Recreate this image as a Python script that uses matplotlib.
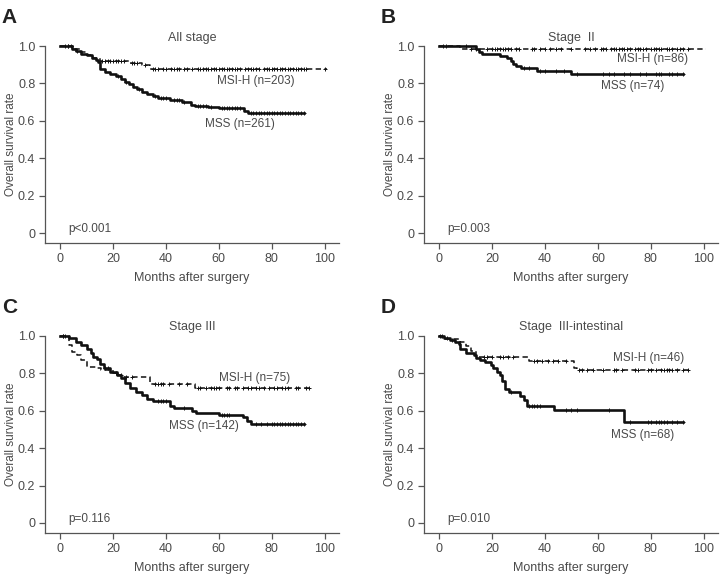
import matplotlib.pyplot as plt
import numpy as np

plt.rcParams['font.family'] = ['Liberation Sans', 'DejaVu Sans']

# ---- data (event times in months, survival after each step)
# Panel A: all stage
a_mss_t = [0, 4.5, 6, 8, 10, 12, 13.5, 14.5, 15, 17, 19, 21, 23, 24.5, 26, 27.5, 29, 31, 33,
           35, 37, 41.5, 46, 49.5, 51, 56, 60, 69.5, 71]
a_mss_s = [1.0, 0.985, 0.975, 0.96, 0.95, 0.935, 0.925, 0.915, 0.875, 0.862, 0.852, 0.84,
           0.825, 0.81, 0.795, 0.78, 0.768, 0.755, 0.745, 0.735, 0.725, 0.71, 0.70, 0.685,
           0.68, 0.672, 0.668, 0.655, 0.642]
a_mss_c = [2, 3, 6.5, 22, 25, 30, 36, 38, 39, 40, 43, 44, 45, 47, 52, 53, 54, 55, 57, 61, 62,
           63, 64, 65, 66, 67, 68, 72, 73, 74, 75, 76, 77, 78, 79, 80, 81, 82, 83, 84, 85, 86,
           87, 88, 89, 90, 91, 92]
a_mss_end = 92

a_msi_t = [0, 5, 8, 10, 12.5, 15, 26, 31, 34]
a_msi_s = [1.0, 0.985, 0.97, 0.95, 0.935, 0.92, 0.91, 0.90, 0.875]
a_msi_c = [3, 4, 16, 17, 18, 19, 20, 21, 22, 23, 24, 27, 28, 29, 32, 35, 36, 37, 39, 40, 42,
           43, 44, 45, 47, 48, 50, 52, 53, 54, 55, 56, 57, 58, 59, 60, 61, 62, 63, 64, 65,
           66, 67, 68, 70, 71, 72, 73, 74, 75, 77, 78, 79, 80, 81, 82, 83, 84, 85, 86, 87,
           88, 89, 90, 91, 92, 93, 100]
a_msi_end = 101

# Panel B: stage II
b_mss_t = [0, 14, 15, 16, 23, 25.5, 27, 28, 29, 31, 37, 50]
b_mss_s = [1.0, 0.985, 0.97, 0.955, 0.945, 0.935, 0.92, 0.905, 0.895, 0.882, 0.868, 0.853]
b_mss_c = [10, 32, 34, 38, 40, 44, 47, 52, 62, 64, 66, 70, 72, 76, 78, 82, 83, 84, 87, 88,
           90, 92]
b_mss_end = 92

b_msi_t = [0, 8]
b_msi_s = [1.0, 0.985]
b_msi_c = [1.5, 2.5, 12, 14, 18, 20, 21, 22, 23, 24, 25, 26, 27, 29, 30, 35, 36, 38, 40,
           42, 44, 46, 50, 55, 57, 59, 61, 62, 63, 65, 66, 67, 68, 69, 70, 71, 72, 74, 75,
           76, 77, 78, 80, 81, 82, 83, 84, 86, 87, 88, 90, 91, 92, 94]
b_msi_end = 101

# Panel C: stage III
c_mss_t = [0, 3.5, 6, 8, 10, 11.5, 12.5, 14, 15, 16.5, 19, 21.5, 23, 24.5, 26.5, 28.5, 31,
           33, 35, 41.5, 43, 50, 51.5, 60, 69, 70.5, 72]
c_mss_s = [1.0, 0.99, 0.97, 0.95, 0.93, 0.91, 0.89, 0.875, 0.85, 0.83, 0.81, 0.79, 0.775,
           0.75, 0.72, 0.70, 0.685, 0.665, 0.65, 0.625, 0.615, 0.598, 0.59, 0.58, 0.565,
           0.545, 0.53]
c_mss_c = [1, 17, 18, 37, 38, 39, 40, 47, 61, 62, 63, 64, 74, 76, 78, 80, 81, 82, 83, 84,
           85, 86, 87, 88, 89, 90, 91, 92]
c_mss_end = 92

c_msi_t = [0, 3.5, 4.5, 6.5, 8, 10, 14, 15.5, 20, 22, 24, 34, 51]
c_msi_s = [1.0, 0.95, 0.915, 0.90, 0.87, 0.835, 0.83, 0.82, 0.80, 0.79, 0.78, 0.745, 0.72]
c_msi_c = [1, 2, 21, 23, 25, 27, 36, 37, 38, 39, 41, 45, 48, 52, 53, 55, 57, 58, 59, 60, 63,
           64, 66, 67, 69, 71, 72, 74, 75, 77, 79, 81, 82, 84, 85, 86, 89, 90, 93, 94]
c_msi_end = 95

# Panel D: stage III-intestinal
d_mss_t = [0, 2, 4, 6, 7.5, 8, 10, 13, 14, 15.5, 17.5, 19.5, 20.5, 22, 23, 23.8, 25, 26.5,
           30.5, 32, 33.2, 43.5, 70]
d_mss_s = [1.0, 0.99, 0.98, 0.97, 0.955, 0.93, 0.91, 0.90, 0.88, 0.87, 0.86, 0.845, 0.83,
           0.81, 0.79, 0.76, 0.715, 0.70, 0.68, 0.655, 0.625, 0.605, 0.54]
d_mss_c = [1, 3, 5, 27, 34, 35, 36, 37, 38, 48, 50, 52, 64, 72, 79, 80, 82, 83, 84, 85, 86,
           88, 90, 92]
d_mss_end = 92

d_msi_t = [0, 1, 8, 10, 12, 14, 34, 51, 52]
d_msi_s = [1.0, 0.985, 0.97, 0.945, 0.92, 0.885, 0.865, 0.83, 0.82]
d_msi_c = [0.5, 17, 18, 20, 23, 24, 26, 28, 36, 37, 39, 41, 43, 45, 48, 53, 54, 56, 58, 62,
           66, 67, 69, 74, 75, 79, 80, 82, 84, 85, 86, 87, 88, 90, 92, 94]
d_msi_end = 95

panels = [
    dict(letter='A', title='All stage', p='p<0.001', rect=[0.0625, 0.578, 0.408, 0.342],
         mss=(a_mss_t, a_mss_s, a_mss_c, a_mss_end), msi=(a_msi_t, a_msi_s, a_msi_c, a_msi_end),
         msi_lab=('MSI-H (n=203)', 74, 0.813), mss_lab=('MSS (n=261)', 68, 0.584)),
    dict(letter='B', title='Stage  II', p='p=0.003', rect=[0.589, 0.578, 0.408, 0.342],
         mss=(b_mss_t, b_mss_s, b_mss_c, b_mss_end), msi=(b_msi_t, b_msi_s, b_msi_c, b_msi_end),
         msi_lab=('MSI-H (n=86)', 80.5, 0.932), mss_lab=('MSS (n=74)', 73, 0.786)),
    dict(letter='C', title='Stage III', p='p=0.116', rect=[0.0625, 0.0747, 0.408, 0.342],
         mss=(c_mss_t, c_mss_s, c_mss_c, c_mss_end), msi=(c_msi_t, c_msi_s, c_msi_c, c_msi_end),
         msi_lab=('MSI-H (n=75)', 73.5, 0.774), mss_lab=('MSS (n=142)', 54.5, 0.516)),
    dict(letter='D', title='Stage  III-intestinal', p='p=0.010', rect=[0.589, 0.0747, 0.408, 0.342],
         mss=(d_mss_t, d_mss_s, d_mss_c, d_mss_end), msi=(d_msi_t, d_msi_s, d_msi_c, d_msi_end),
         msi_lab=('MSI-H (n=46)', 79, 0.88), mss_lab=('MSS (n=68)', 77, 0.468)),
]

xticks = [0, 20, 40, 60, 80, 100]
yticks = [0, 0.2, 0.4, 0.6, 0.8, 1.0]
ytick_labels = ['0', '0.2', '0.4', '0.6', '0.8', '1.0']

TXT = '#4a4a4a'
LINE = '#111111'


def draw_km(ax, curve, dashed):
    t, s, cens, t_end = curve
    t = np.asarray(t)
    s = np.asarray(s)
    xs = np.append(t, t_end)
    ys = np.append(s, s[-1])
    if dashed:
        ax.step(xs, ys, where='post', color=LINE, lw=1.1, dashes=(3.5, 2.2), clip_on=False)
    else:
        ax.step(xs, ys, where='post', color=LINE, lw=1.9, clip_on=False)
    # censor marks sit on the curve at the censor time
    idx = np.searchsorted(t, cens, side='right') - 1
    ax.plot(cens, s[idx], ls='none', marker='+', ms=3.5, mew=0.7, color=LINE, clip_on=False)


fig = plt.figure(figsize=(7.2, 5.76), dpi=100)

for p in panels:
    ax = fig.add_axes(p['rect'])
    draw_km(ax, p['msi'], dashed=True)
    draw_km(ax, p['mss'], dashed=False)

    ax.set_xlim(-5.7, 105.3)
    ax.set_ylim(-0.0535, 1.0)
    ax.set_xticks(xticks)
    ax.set_yticks(yticks)
    ax.set_yticklabels(ytick_labels)
    for sp in ['top', 'right']:
        ax.spines[sp].set_visible(False)
    for sp in ['left', 'bottom']:
        ax.spines[sp].set_color('#555555')
        ax.spines[sp].set_linewidth(0.9)
    ax.tick_params(direction='out', length=4, width=0.9, color='#555555',
                   labelsize=9, labelcolor=TXT, pad=3)

    ax.set_xlabel('Months after surgery', fontsize=9, color=TXT, labelpad=5)
    ax.set_ylabel('Overall survival rate', fontsize=8.5, color=TXT, va='center')
    ax.yaxis.set_label_coords(-0.115, 0.5)
    ax.set_title(p['title'], fontsize=9, color=TXT, pad=4)

    lab, lx, ly = p['msi_lab']
    ax.text(lx, ly, lab, ha='center', va='center', fontsize=8.5, color=TXT)
    lab, lx, ly = p['mss_lab']
    ax.text(lx, ly, lab, ha='center', va='center', fontsize=8.5, color=TXT)
    ax.text(3.2, 0.02, p['p'], ha='left', va='center', fontsize=8.5, color=TXT)

    x0, y0, w, h = p['rect']
    fig.text(x0 - 0.06, y0 + h + 0.05, p['letter'], fontsize=15, fontweight='bold',
             color='#222222', family=['Liberation Sans Narrow', 'Liberation Sans', 'DejaVu Sans'],
             ha='left', va='center')

fig.savefig('out.png', dpi=100)
